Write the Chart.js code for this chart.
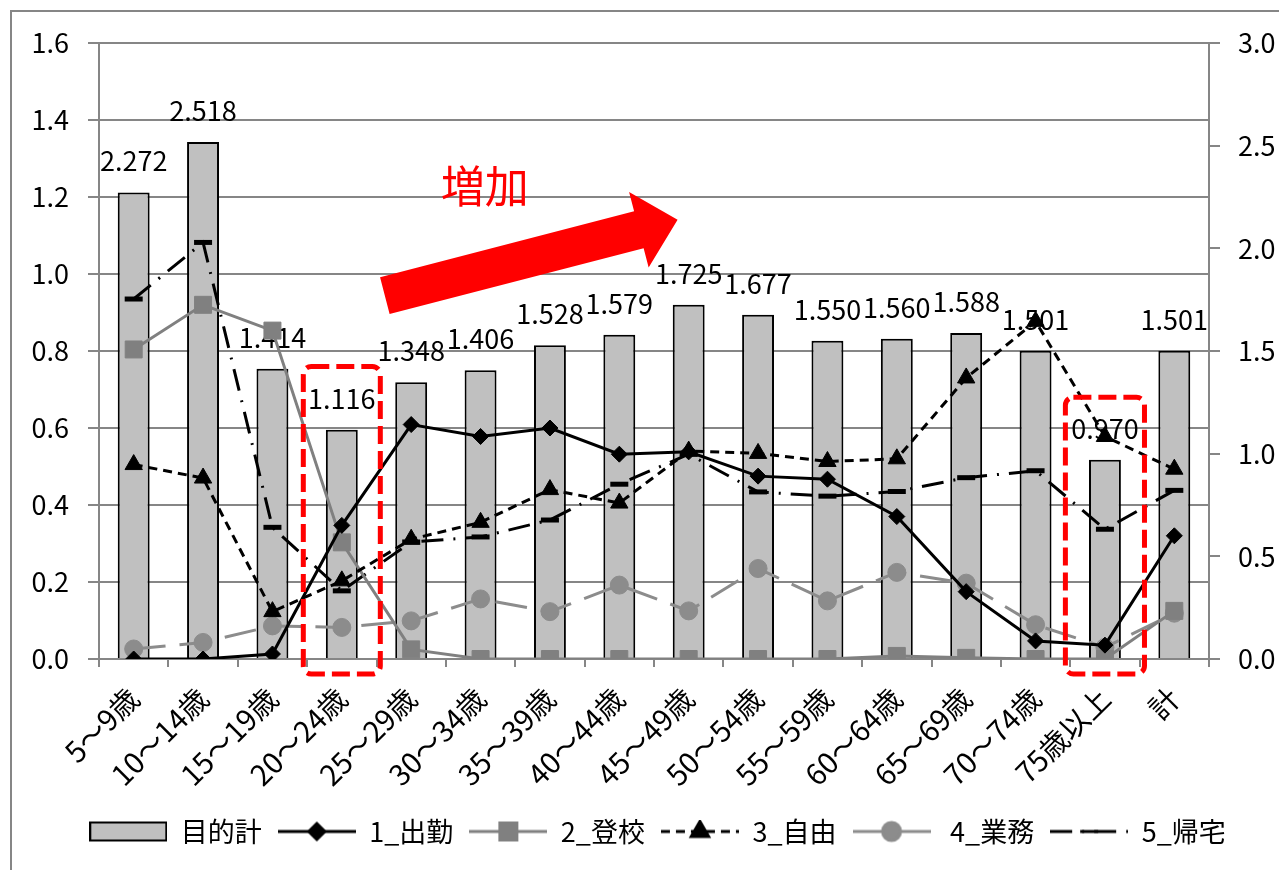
<!DOCTYPE html>
<html lang="ja">
<head>
<meta charset="utf-8">
<title>年齢階層別 目的別原単位</title>
<script src="https://cdn.jsdelivr.net/npm/chart.js@4.4.1/dist/chart.umd.min.js"></script>
<style>
  html, body { margin: 0; padding: 0; background: #fff; }
  #wrap { position: relative; width: 1279px; height: 870px; }
</style>
</head>
<body>
<div id="wrap"><canvas id="chart"></canvas></div>
<script>
// Data
const categories = ['5～9歳', '10～14歳', '15～19歳', '20～24歳', '25～29歳', '30～34歳', '35～39歳', '40～44歳',
                    '45～49歳', '50～54歳', '55～59歳', '60～64歳', '65～69歳', '70～74歳', '75歳以上', '計'];
const totalTrips = [2.272, 2.518, 1.414, 1.116, 1.348, 1.406, 1.528, 1.579, 1.725, 1.677, 1.550, 1.560, 1.588, 1.501, 0.970, 1.501];
const commute  = [0.000, 0.000, 0.013, 0.347, 0.609, 0.578, 0.600, 0.532, 0.538, 0.475, 0.467, 0.370, 0.175, 0.047, 0.036, 0.320];
const school   = [0.804, 0.920, 0.853, 0.303, 0.025, 0.000, 0.000, 0.000, 0.000, 0.000, 0.000, 0.008, 0.003, 0.000, 0.000, 0.125];
const leisure  = [0.505, 0.470, 0.123, 0.203, 0.311, 0.355, 0.440, 0.405, 0.540, 0.534, 0.513, 0.520, 0.730, 0.877, 0.578, 0.493];
const business = [0.026, 0.043, 0.086, 0.082, 0.099, 0.156, 0.123, 0.192, 0.125, 0.235, 0.151, 0.225, 0.197, 0.089, 0.030, 0.119];
const homeward = [0.935, 1.082, 0.342, 0.177, 0.304, 0.317, 0.361, 0.454, 0.532, 0.434, 0.423, 0.435, 0.471, 0.489, 0.337, 0.438];
const leftTicks  = [0, 0.2, 0.4, 0.6, 0.8, 1.0, 1.2, 1.4, 1.6];
const rightTicks = [0, 0.5, 1.0, 1.5, 2.0, 2.5, 3.0];

const FONT = "'Noto Sans CJK JP', 'Noto Sans', sans-serif";
const GRID = '#868686';

Chart.defaults.font.family = FONT;
Chart.defaults.font.size = 27;
Chart.defaults.color = '#000';

// Legend icons: line + marker drawn into small canvases
function lineIcon(ds) {
    const c = document.createElement('canvas');
    c.width = 78; c.height = 24;
    const g = c.getContext('2d');
    g.strokeStyle = ds.borderColor;
    g.lineWidth = ds.borderWidth;
    g.setLineDash(ds.borderDash || []);
    g.beginPath();
    g.moveTo(0, 12); g.lineTo(78, 12);
    g.stroke();
    g.setLineDash([]);
    g.fillStyle = ds.pointBackgroundColor;
    g.strokeStyle = ds.pointBorderColor;
    Chart.helpers.drawPoint(g, {
        pointStyle: ds.pointStyle, radius: ds.pointRadius,
        borderWidth: ds.pointBorderWidth, rotation: 0
    }, 39, 12);
    return c;
}

function barIcon(ds) {
    const c = document.createElement('canvas');
    c.width = 78; c.height = 22;
    const g = c.getContext('2d');
    g.fillStyle = ds.backgroundColor;
    g.fillRect(1, 2, 76, 18);
    g.strokeStyle = ds.borderColor;
    g.lineWidth = 2;
    g.strokeRect(1, 2, 76, 18);
    return c;
}

function lineSet(label, data, color, dash, style, radius, order, extra) {
    return Object.assign({
        type: 'line', label, data, yAxisID: 'y', order,
        borderColor: color, borderWidth: 3, borderDash: dash, tension: 0,
        pointStyle: style, pointRadius: radius, pointBackgroundColor: color,
        pointBorderColor: color, pointBorderWidth: 1, fill: false
    }, extra || {});
}

const datasets = [
    {
        type: 'bar', label: '目的計', data: totalTrips, yAxisID: 'y2', order: 10,
        backgroundColor: '#c0c0c0', borderColor: '#000', borderWidth: 2,
        barPercentage: 0.46, categoryPercentage: 1
    },
    lineSet('1_出勤', commute, '#000', [], 'rectRot', 8, 1),
    lineSet('2_登校', school, '#808080', [], 'rect', 12, 3),
    lineSet('3_自由', leisure, '#000', [9, 6], 'triangle', 10, 2),
    lineSet(' 4_業務', business, '#8c8c8c', [32, 14], 'circle', 9, 4),
    lineSet('5_帰宅', homeward, '#000', [22, 10, 2, 10], 'line', 9, 5, { pointBorderWidth: 5 })
];

// Annotations (red dashed frames, arrow, text) in scale units
const frames = [
    { index: 3, half: 0.555, top: 0.76 },
    { index: 14, half: 0.57, top: 0.68 }
];
const arrow = { from: [3.62, 0.944], to: [7.84, 1.141], shaft: 38, headWidth: 78, headLength: 40 };
const arrowText = { text: '増加', at: [5.06, 1.229] };

const framePlugin = {
    id: 'decor',
    beforeDraw(chart) {
        const ctx = chart.ctx;
        ctx.save();
        ctx.fillStyle = '#fff';
        ctx.fillRect(0, 0, chart.width, chart.height);
        ctx.strokeStyle = GRID;
        ctx.lineWidth = 2;
        ctx.strokeRect(11, 11, chart.width + 20, chart.height + 20);
        ctx.restore();
    },
    afterDatasetDraw(chart, args) {
        if (args.index !== 0) return;
        const ctx = chart.ctx;
        ctx.save();
        ctx.font = '27px ' + FONT;
        ctx.fillStyle = '#000';
        ctx.textAlign = 'center';
        ctx.textBaseline = 'alphabetic';
        args.meta.data.forEach((bar, i) => {
            ctx.fillText(totalTrips[i].toFixed(3), bar.x, bar.y - 21);
        });
        ctx.restore();
    },
    afterDraw(chart) {
        const ctx = chart.ctx;
        const xs = chart.scales.x, ys = chart.scales.y;
        const step = xs.getPixelForValue(1) - xs.getPixelForValue(0);
        ctx.save();

        // dashed rounded frames
        ctx.strokeStyle = '#ff0000';
        ctx.lineWidth = 5;
        ctx.setLineDash([18, 7]);
        frames.forEach(f => {
            const cx = xs.getPixelForValue(f.index);
            const l = cx - f.half * step, r = cx + f.half * step;
            const t = ys.getPixelForValue(f.top), b = chart.chartArea.bottom + 15;
            const rad = 8;
            ctx.beginPath();
            ctx.moveTo(l + rad, t);
            ctx.arcTo(r, t, r, b, rad);
            ctx.arcTo(r, b, l, b, rad);
            ctx.arcTo(l, b, l, t, rad);
            ctx.arcTo(l, t, r, t, rad);
            ctx.closePath();
            ctx.stroke();
        });
        ctx.setLineDash([]);

        // arrow
        const x1 = xs.getPixelForValue(arrow.from[0]), y1 = ys.getPixelForValue(arrow.from[1]);
        const x2 = xs.getPixelForValue(arrow.to[0]), y2 = ys.getPixelForValue(arrow.to[1]);
        const len = Math.hypot(x2 - x1, y2 - y1);
        ctx.translate(x1, y1);
        ctx.rotate(Math.atan2(y2 - y1, x2 - x1));
        ctx.beginPath();
        ctx.moveTo(0, -arrow.shaft / 2);
        ctx.lineTo(len - arrow.headLength, -arrow.shaft / 2);
        ctx.lineTo(len - arrow.headLength, -arrow.headWidth / 2);
        ctx.lineTo(len, 0);
        ctx.lineTo(len - arrow.headLength, arrow.headWidth / 2);
        ctx.lineTo(len - arrow.headLength, arrow.shaft / 2);
        ctx.lineTo(0, arrow.shaft / 2);
        ctx.closePath();
        ctx.fillStyle = '#ff0000';
        ctx.fill();
        ctx.setTransform(1, 0, 0, 1, 0, 0);
        ctx.scale(chart.currentDevicePixelRatio, chart.currentDevicePixelRatio);

        ctx.font = '44px ' + FONT;
        ctx.fillStyle = '#ff0000';
        ctx.textAlign = 'center';
        ctx.textBaseline = 'middle';
        ctx.fillText(arrowText.text, xs.getPixelForValue(arrowText.at[0]), ys.getPixelForValue(arrowText.at[1]));
        ctx.restore();
    }
};

new Chart(document.getElementById('chart'), {
    type: 'bar',
    data: { labels: categories, datasets },
    options: {
        responsive: true,
        maintainAspectRatio: false,
        animation: false,
        events: [],
        // negative right padding shifts the centred legend like in the original
        layout: { padding: { left: 0, right: -36, top: 43, bottom: 15 } },
        scales: {
            x: {
                offset: true,
                grid: { offset: true, drawOnChartArea: false, color: GRID, lineWidth: 2, tickLength: 8 },
                border: { color: GRID, width: 2 },
                ticks: { minRotation: 45, maxRotation: 45, autoSkip: false, padding: 14, font: { size: 29 } },
                afterFit: s => { s.height = 143; }
            },
            y: {
                position: 'left', min: 0, max: 1.6,
                afterBuildTicks: s => { s.ticks = leftTicks.map(v => ({ value: v })); },
                ticks: { padding: 19, callback: v => Number(v).toFixed(1) },
                grid: { color: GRID, lineWidth: 2, tickLength: 11 },
                border: { color: GRID, width: 2 },
                afterFit: s => { s.width = 99; }
            },
            y2: {
                position: 'right', min: 0, max: 3,
                afterBuildTicks: s => { s.ticks = rightTicks.map(v => ({ value: v })); },
                ticks: { padding: 18, callback: v => Number(v).toFixed(1) },
                grid: { drawOnChartArea: false, color: GRID, lineWidth: 2, tickLength: 11 },
                border: { color: GRID, width: 2 },
                afterFit: s => { s.width = 106; }
            }
        },
        plugins: {
            tooltip: { enabled: false },
            legend: {
                position: 'bottom',
                labels: {
                    usePointStyle: true,
                    pointStyleWidth: 78,
                    padding: 16,
                    color: '#000',
                    font: { size: 27 },
                    sort: (a, b) => a.datasetIndex - b.datasetIndex,
                    generateLabels(chart) {
                        const items = Chart.defaults.plugins.legend.labels.generateLabels(chart);
                        items.forEach(item => {
                            const ds = chart.data.datasets[item.datasetIndex];
                            item.pointStyle = ds.type === 'bar' ? barIcon(ds) : lineIcon(ds);
                        });
                        return items;
                    }
                }
            }
        }
    },
    plugins: [framePlugin]
});
</script>
</body>
</html>
